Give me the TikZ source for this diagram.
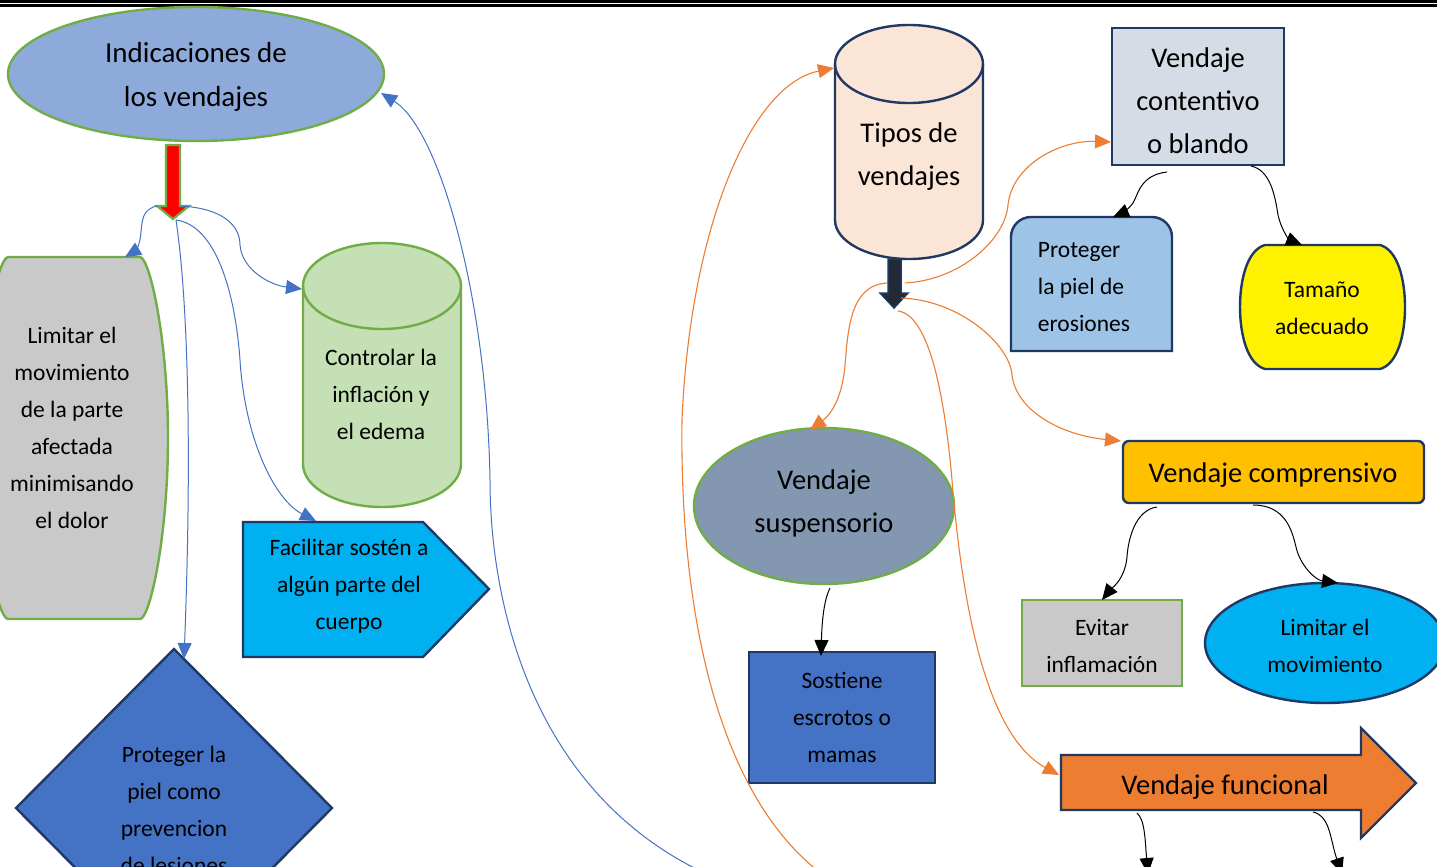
\documentclass[tikz,border=0pt]{standalone}
\usepackage{fontspec}
\setmainfont{Carlito}
\usetikzlibrary{arrows.meta}
\definecolor{cellblue}{HTML}{8EAADB}
\definecolor{cgreen}{HTML}{70AD47}
\definecolor{cgray}{HTML}{C9C9C9}
\definecolor{ccylg}{HTML}{C5E0B4}
\definecolor{ccyan}{HTML}{00B0F0}
\definecolor{cmblue}{HTML}{4472C4}
\definecolor{cnavy}{HTML}{1F3864}
\definecolor{cpeach}{HTML}{FBE5D6}
\definecolor{csteel}{HTML}{D6DCE5}
\definecolor{csky}{HTML}{9DC3E6}
\definecolor{cslate}{HTML}{8497B0}
\definecolor{cgold}{HTML}{FFC000}
\definecolor{corange}{HTML}{ED7D31}
\definecolor{cdark}{HTML}{222A35}
\tikzset{
  shp/.style={line width=2.4pt},
  con/.style={line width=1pt,-{Triangle[length=16pt,width=14pt]}},
  bcon/.style={con,draw=cmblue},
  ocon/.style={con,draw=corange,line width=1.1pt},
  kcon/.style={con,draw=black},
  small/.style={font=\fontsize{23.5}{37}\selectfont,align=center,inner sep=0pt},
  big/.style={font=\fontsize{28.5}{43}\selectfont,align=center,inner sep=0pt}
}
\begin{document}
\begin{tikzpicture}[x=1pt,y=-1pt]
\clip (0,0) rectangle (1437,867);
\fill[white] (0,0) rectangle (1437,867);
% top border
\draw[line width=2.6pt] (0,1.3) -- (1437,1.3);
\draw[line width=2.2pt] (0,5.6) -- (1437,5.6);

% ---------- left part ----------
\draw[fill=cellblue,draw=cgreen,shp] (196,74) ellipse[x radius=188,y radius=67];
\node[big,font=\fontsize{29}{44}\selectfont] (indic) at (196,77) {Indicaciones de\\los vendajes};
\coordinate (indicR) at (381,93);

\draw[fill=red,draw=cgreen,line width=2.2pt] (166,145) -- (180,145) -- (180,206) -- (189,206) -- (173,219) -- (157,206) -- (166,206) -- cycle;
\coordinate (redL) at (158,206);
\coordinate (redR) at (180,206);
\coordinate (redT) at (176,220);

\draw[fill=cgray,draw=cgreen,shp] (8,257) -- (140,257) .. controls (150,258) and (168,340) .. (168,438) .. controls (168,536) and (150,619) .. (140,619) -- (8,619) .. controls (-2,619) and (-20,536) .. (-20,438) .. controls (-20,340) and (-2,258) .. (8,257) -- cycle;
\node[small] (limitar) at (72,428) {Limitar el\\movimiento\\de la parte\\afectada\\minimisando\\el dolor};
\coordinate (limitarT) at (125,257);

\draw[fill=ccylg,draw=cgreen,shp] (303,286) -- (303,464) arc[start angle=180,end angle=0,x radius=79,y radius=43] -- (461,286) arc[start angle=360,end angle=180,x radius=79,y radius=43] -- cycle;
\draw[draw=cgreen,shp] (303,286) arc[start angle=180,end angle=0,x radius=79,y radius=43];
\node[small] (controlar) at (381,394) {Controlar la\\inflación y\\el edema};
\coordinate (controlarL) at (302,289);

\draw[fill=ccyan,draw=cnavy,shp] (243,522) -- (423,522) -- (489,589) -- (423,657) -- (243,657) -- cycle;
\node[small] (facilitar) at (349,586) {Facilitar sostén a\\algún parte del\\cuerpo};
\coordinate (facilitarT) at (316,521);

\draw[fill=cmblue,draw=cnavy,shp] (174,649) -- (332,808) -- (174,967) -- (16,808) -- cycle;
\node[small] (proteger) at (174,810) {Proteger la\\piel como\\prevencion\\de lesiones};
\coordinate (protegerT) at (184,659);

% blue connectors
\draw[bcon] (redL) .. controls (142,208) and (142,222) .. (141,232) .. controls (140,246) and (135,251) .. (limitarT);
\draw[bcon] (redR) .. controls (222,208) and (240,225) .. (240,245) .. controls (242,270) and (270,285) .. (controlarL);
\draw[bcon] (redT) .. controls (215,225) and (235,290) .. (240,360) .. controls (245,440) and (275,500) .. (facilitarT);
\draw[bcon] (redT) .. controls (188,300) and (192,450) .. (protegerT);
\coordinate (blueStart) at (720,880);
\draw[bcon] (blueStart) .. controls (530,800) and (490,600) .. (490,480) .. controls (487,300) and (440,130) .. (indicR);

% ---------- right part ----------
\draw[fill=cpeach,draw=cnavy,shp] (835,64) -- (835,220) arc[start angle=180,end angle=0,x radius=74,y radius=39] -- (983,64) arc[start angle=360,end angle=180,x radius=74,y radius=39] -- cycle;
\draw[draw=cnavy,shp] (835,64) arc[start angle=180,end angle=0,x radius=74,y radius=39];
\node[big] (tipos) at (909,157) {Tipos de\\vendajes};
\coordinate (tiposL) at (834,68);

\draw[fill=cdark,draw=cnavy,line width=1.5pt] (888,259) -- (901,259) -- (901,293) -- (908,293) -- (894,308) -- (880,293) -- (888,293) -- cycle;
\coordinate (oA) at (905,283);
\coordinate (oB) at (887,283);
\coordinate (oC) at (901,298);
\coordinate (oD) at (898,311);

\draw[fill=csteel,draw=cnavy,shp] (1112,28) rectangle (1284,165);
\node[big] (contentivo) at (1198,101) {Vendaje\\contentivo\\o blando};
\coordinate (contentivoL) at (1111,142);
\coordinate (contentivoB1) at (1167,172);
\coordinate (contentivoB2) at (1251,166);

\draw[fill=csky,draw=cnavy,shp] (1011,351) -- (1011,237) arc[start angle=180,end angle=270,radius=20] -- (1152,217) arc[start angle=270,end angle=360,radius=20] -- (1172,351) -- cycle;
\node[small,align=left] (erosiones) at (1084,287) {Proteger\\la piel de\\erosiones};
\coordinate (erosionesT) at (1113,217);

\draw[fill=yellow,draw=cnavy,shp] (1265,245) -- (1380,245) .. controls (1398,250) and (1405,280) .. (1405,307) .. controls (1405,334) and (1398,364) .. (1380,369) -- (1265,369) .. controls (1247,364) and (1240,334) .. (1240,307) .. controls (1240,280) and (1247,250) .. (1265,245) -- cycle;
\node[small] (tamano) at (1322,308) {Tamaño\\adecuado};
\coordinate (tamanoT) at (1302,245);

\draw[fill=cslate,draw=cgreen,shp] (824,506) ellipse[x radius=130,y radius=78];
\node[big] (suspensorio) at (824,503) {Vendaje\\suspensorio};
\coordinate (suspensorioT) at (810,430);
\coordinate (suspensorioB) at (830,588);

\draw[fill=cmblue,draw=cnavy,shp] (749,652) rectangle (935,783);
\node[small] (sostiene) at (842,717) {Sostiene\\escrotos o\\mamas};
\coordinate (sostieneT) at (821,656);

\draw[fill=cgold,draw=cnavy,shp,rounded corners=6pt] (1123,441) rectangle (1424,503);
\node[big] (comprensivo) at (1273,475) {Vendaje comprensivo};
\coordinate (comprensivoL) at (1121,441);
\coordinate (comprensivoB1) at (1157,507);
\coordinate (comprensivoB2) at (1253,505);

\draw[fill=cgray,draw=cgreen,shp] (1022,600) rectangle (1182,686);
\node[small] (evitar) at (1102,646) {Evitar\\inflamación};
\coordinate (evitarT) at (1102,600);

\draw[fill=ccyan,draw=cnavy,shp] (1325,643) ellipse[x radius=120,y radius=60];
\node[small] (limmov) at (1325,646) {Limitar el\\movimiento};
\coordinate (limmovT) at (1338,583);

\draw[fill=corange,draw=cnavy,shp] (1061,755) -- (1361,755) -- (1361,728) -- (1416,783) -- (1361,838) -- (1361,810) -- (1061,810) -- cycle;
\node[big] (funcional) at (1225,787) {Vendaje funcional};
\coordinate (funcionalL) at (1059,775);
\coordinate (funcionalB1) at (1137,813);
\coordinate (funcionalB2) at (1313,812);
\coordinate (outA) at (1148,874);
\coordinate (outB) at (1342,874);

% orange connectors
\draw[ocon] (oA) .. controls (960,280) and (1005,240) .. (1008,205) .. controls (1012,165) and (1060,140) .. (contentivoL);
\draw[ocon] (oB) .. controls (850,285) and (848,330) .. (845,365) .. controls (842,400) and (830,415) .. (suspensorioT);
\draw[ocon] (oC) .. controls (960,300) and (1010,345) .. (1012,375) .. controls (1016,410) and (1060,435) .. (comprensivoL);
\draw[ocon] (oD) .. controls (930,315) and (945,400) .. (952,480) .. controls (965,640) and (995,740) .. (funcionalL);
\coordinate (orangeStart) at (830,880);
\draw[ocon] (orangeStart) .. controls (700,790) and (680,560) .. (682,420) .. controls (690,230) and (750,85) .. (tiposL);

% black connectors
\draw[kcon] (contentivoB1) .. controls (1140,175) and (1138,195) .. (1133,203) .. controls (1128,210) and (1120,214) .. (erosionesT);
\draw[kcon] (contentivoB2) .. controls (1270,170) and (1275,195) .. (1278,215) .. controls (1282,232) and (1290,240) .. (tamanoT);
\draw[kcon] (suspensorioB) .. controls (824,600) and (822,620) .. (sostieneT);
\draw[kcon] (comprensivoB1) .. controls (1135,510) and (1128,540) .. (1127,557) .. controls (1125,580) and (1110,590) .. (evitarT);
\draw[kcon] (comprensivoB2) .. controls (1285,505) and (1292,530) .. (1296,547) .. controls (1300,565) and (1315,580) .. (limmovT);
\draw[kcon] (funcionalB1) .. controls (1145,820) and (1145,840) .. (outA);
\draw[kcon] (funcionalB2) .. controls (1328,815) and (1330,835) .. (1333,845) .. controls (1335,855) and (1338,862) .. (outB);
\end{tikzpicture}
\end{document}
